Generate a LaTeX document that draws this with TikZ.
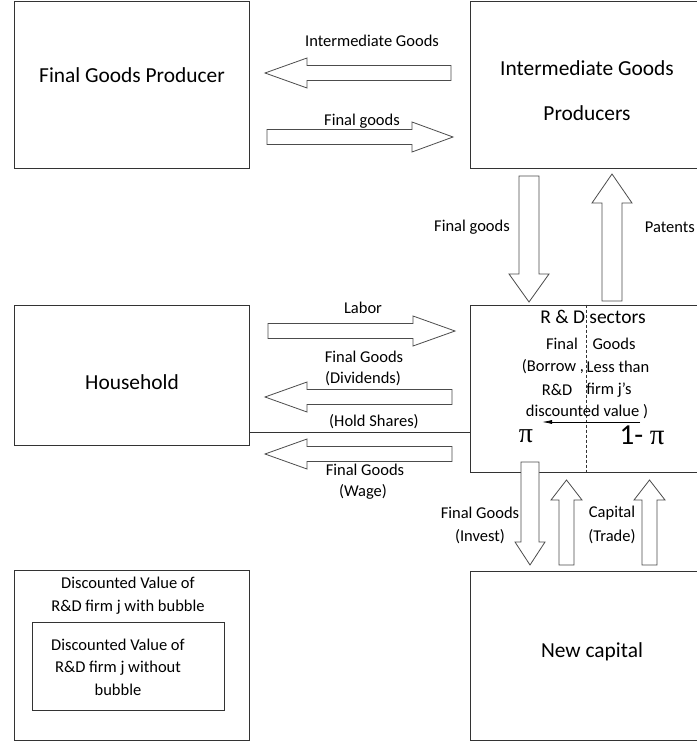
\documentclass[tikz,border=0pt]{standalone}
\usepackage{fontspec}
\setmainfont{Carlito}
\newfontfamily\pifont{Liberation Serif}
\usetikzlibrary{calc,arrows.meta}

\tikzset{
  box/.style={draw=black!80, line width=0.8pt, rectangle, inner sep=0pt},
  title/.style={font=\fontsize{21.4}{25}\selectfont, inner sep=0pt},
  lbl/.style={font=\fontsize{16.5}{19}\selectfont, inner sep=0pt},
  fat/.style={draw=black!70, fill=white, line width=0.8pt, line join=miter},
}

% block arrow: half body, half head, head length, tail, tip
\newcommand{\fatarrow}[5]{%
  \coordinate (hb) at ($(#5)!#3pt!(#4)$);
  \draw[fat] ($(#4)!#1pt!90:(#5)$) -- ($(hb)!#1pt!90:(#5)$) -- ($(hb)!#2pt!90:(#5)$) -- (#5)
    -- ($(hb)!#2pt!-90:(#5)$) -- ($(hb)!#1pt!-90:(#5)$) -- ($(#4)!#1pt!-90:(#5)$) -- cycle;
}

\begin{document}
\begin{tikzpicture}[x=1pt,y=-1pt]
\useasboundingbox (0,0) rectangle (696,743);

% boxes
\node[box, minimum width=235, minimum height=167] (fgp) at (131.5,84.5) {};
\node[box, minimum width=232, minimum height=167] (igp) at (586,84.5) {};
\node[box, minimum width=235, minimum height=140] (hh) at (131.5,375) {};
\node[box, minimum width=232, minimum height=167] (rnd) at (586,388.5) {};
\node[box, minimum width=232, minimum height=169] (newcap) at (586,655.5) {};
\node[box, minimum width=235, minimum height=170] (dvout) at (131.5,655) {};
\node[box, minimum width=192, minimum height=88] (dvin) at (128,666) {};

\node[title] (fgptxt) at (132,75) {Final Goods Producer};
\node[title] (igptop) at (587,68) {Intermediate Goods};
\node[title] (igpbot) at (587,113) {Producers};
\node[title] (hhtxt) at (132,382) {Household};
\node[title] (nctxt) at (592,652) {New capital};
\node[lbl] (dvo1) at (128,583) {Discounted Value of};
\node[lbl] (dvo2) at (128,607) {R\&D firm j with bubble};
\node[lbl, align=center] (dvi) at (118,667) {Discounted Value of\\[3pt]R\&D firm j without\\[4pt]bubble};

% flows between the top boxes
\coordinate (igA) at (451,73);   \coordinate (igB) at (265,73);
\coordinate (fgA) at (267,137);  \coordinate (fgB) at (453,137);
\fatarrow{7.5}{15}{42}{igA}{igB}
\fatarrow{7.5}{15}{41}{fgA}{fgB}
\node[lbl] (igl) at (372,41) {Intermediate Goods};
\node[lbl] (fgl) at (362,121) {Final goods};

% household <-> R&D
\coordinate (lbA) at (268,331);  \coordinate (lbB) at (455,331);
\coordinate (dvA) at (452,397);  \coordinate (dvB) at (265,397);
\coordinate (wgA) at (452,454);  \coordinate (wgB) at (265,454);
\draw[black!80, line width=0.8pt] (hh.east |- 0,432) -- (rnd.west |- 0,432);
\fatarrow{7.5}{15}{42}{lbA}{lbB}
\fatarrow{7.5}{15}{42}{dvA}{dvB}
\fatarrow{7.5}{15}{42}{wgA}{wgB}
\node[lbl] (lbl1) at (363,308) {Labor};
\node[lbl] (dvl1) at (364,357) {Final Goods};
\node[lbl] (dvl2) at (363,379) {(Dividends)};
\node[lbl] (hsl) at (374,422) {(Hold Shares)};
\node[lbl] (wgl1) at (365,470) {Final Goods};
\node[lbl] (wgl2) at (363,492) {(Wage)};

% R&D <-> intermediate goods
\coordinate (fdA) at (529,176);  \coordinate (fdB) at (529,302);
\coordinate (ptA) at (612,301);  \coordinate (ptB) at (612,174);
\fatarrow{10}{20}{28}{fdA}{fdB}
\fatarrow{10}{20}{29}{ptA}{ptB}
\node[lbl] (fdl) at (472,227) {Final goods};
\node[lbl, anchor=east] (ptl) at (695,227) {Patents};

% inside R&D
\draw[black!80, line width=0.7pt, dash pattern=on 3pt off 2pt] (rnd.north) -- (rnd.south);
\node[font=\fontsize{19.5}{22}\selectfont, inner sep=0pt] (rndtxt) at (593,317) {R \& D sectors};
\node[lbl] (r1a) at (562,344) {Final};
\node[lbl] (r1b) at (614,344) {Goods};
\node[lbl] (r2a) at (553,367) {(Borrow ,};
\node[lbl] (r2b) at (618,367) {Less than};
\node[lbl] (r3a) at (557,390) {R\&D};
\node[lbl] (r3b) at (609,390) {firm j's};
\node[lbl] (r4) at (587,412) {discounted value )};
\coordinate (shA) at (640,422);  \coordinate (shB) at (542,422);
\draw[black, line width=0.8pt, -{Latex[length=10pt,width=4pt]}] (shA) -- (shB);
\node[font=\fontsize{28}{30}\selectfont\pifont, inner sep=0pt] (pil) at (526,436) {π};
\node[font=\fontsize{29}{31}\selectfont, inner sep=0pt] (pir) at (642,435) {1- {\pifont π}};

% R&D <-> new capital
\coordinate (ivA) at (530,462);  \coordinate (ivB) at (530,565);
\coordinate (c1A) at (566.5,565);  \coordinate (c1B) at (566.5,480);
\coordinate (c2A) at (649.5,565);  \coordinate (c2B) at (649.5,480);
\fatarrow{9}{15}{23}{ivA}{ivB}
\fatarrow{7.5}{15.5}{20}{c1A}{c1B}
\fatarrow{7.5}{15.5}{20}{c2A}{c2B}
\node[lbl] (ivl1) at (480,513) {Final Goods};
\node[lbl] (ivl2) at (480,537) {(Invest)};
\node[lbl] (cpl1) at (612,513) {Capital};
\node[lbl] (cpl2) at (612,537) {(Trade)};
\end{tikzpicture}
\end{document}
